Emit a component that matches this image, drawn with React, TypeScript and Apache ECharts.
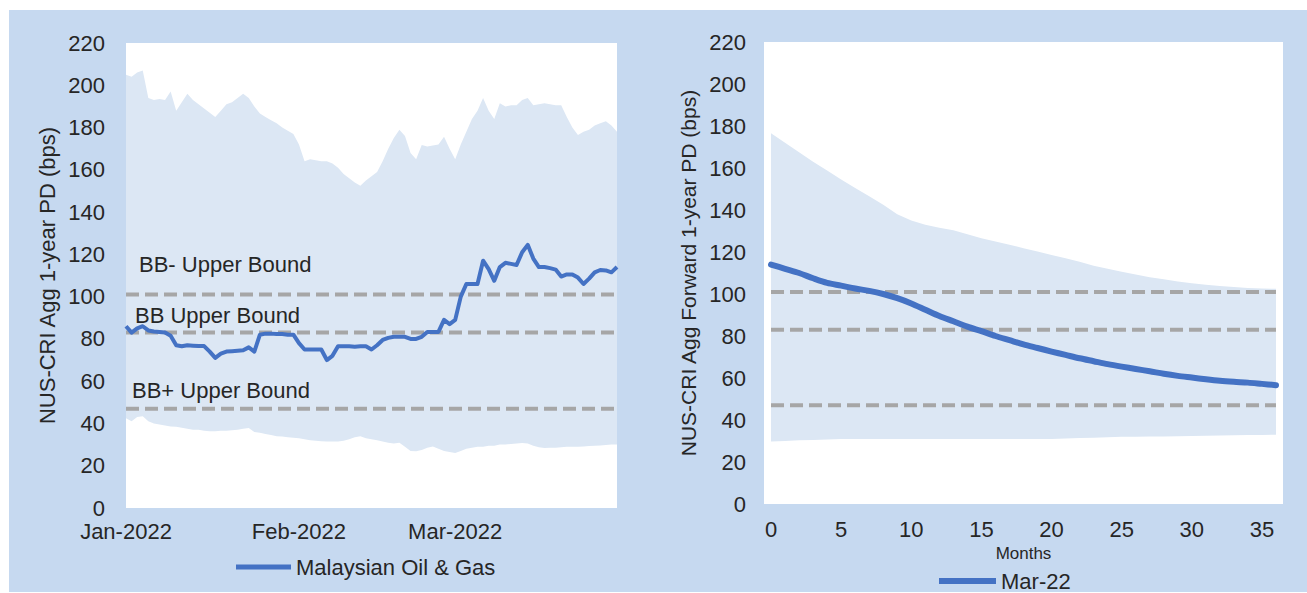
import React, { useEffect, useRef } from 'react';
import * as echarts from 'echarts';

// ---------- Left panel data (daily, 1 Jan 2022 .. 30 Mar 2022) ----------
const startYear = 2022;
const dayCount = 89;
const monthNames = ['Jan', 'Feb', 'Mar', 'Apr', 'May', 'Jun', 'Jul', 'Aug', 'Sep', 'Oct', 'Nov', 'Dec'];
const dates: string[] = [];
for (let i = 0; i < dayCount; i++) {
  const d = new Date(Date.UTC(startYear, 0, 1 + i));
  dates.push(d.toISOString().slice(0, 10));
}

const pdLine = [
  86, 83, 85, 86, 84, 83.5, 83.3, 83, 81.5, 77,
  76.5, 77, 76.8, 76.6, 76.6, 74, 71, 73, 74, 74.2,
  74.4, 74.6, 76, 74, 82, 82.5, 82.5, 82.3, 82.3, 82,
  82, 78, 75, 75, 75, 75, 70, 72, 76.5, 76.5,
  76.5, 76.3, 76.5, 76.5, 75, 77, 79.5, 80.5, 81, 81,
  81, 80, 80, 81, 83.3, 83.3, 83.3, 89, 87, 89,
  100, 106, 106, 106, 117, 113, 107.5, 114, 116, 115.5,
  115, 121, 124.5, 118, 114, 114, 113.5, 112.8, 109.5, 110.5,
  110.5, 109, 106, 108.5, 111.5, 112.6, 112.4, 111.5, 114,
];

const pdUpper = [
  205, 204, 206, 207, 194, 193, 193.5, 193, 197, 188,
  192, 196, 193, 191, 189, 187, 185, 188, 191, 192,
  194, 196, 194, 190, 186.7, 185, 183.5, 182, 180, 178.5,
  177, 172, 164, 165, 164.5, 164, 164, 163, 161, 158,
  156, 154, 152.5, 155, 157, 159, 164, 170, 175, 179,
  176, 168, 165, 171.7, 171, 171.5, 172, 175.6, 170, 165,
  172, 178, 184, 188, 194, 188, 184, 191.5, 190, 190.5,
  190.6, 193, 194, 190.6, 191, 191.5, 191, 190.5, 190.6, 185,
  180, 176.5, 178, 179, 181, 182, 183, 181, 178,
];

const pdLower = [
  42.5, 41, 43, 43.4, 41, 40, 39.5, 39, 38.6, 38.5,
  38, 37.5, 37, 37, 36.5, 36.3, 36.3, 36.5, 36.5, 36.8,
  37, 37.5, 37.9, 36, 35.6, 35, 34.5, 34, 33.8, 33.5,
  33.2, 33, 32.5, 32, 31.8, 31.6, 31.5, 31.5, 31.5, 31.8,
  32.5, 33.5, 33.9, 33, 32.5, 32, 31.5, 30.9, 30.5, 30.9,
  29, 27, 26.8, 27.5, 28.5, 29.1, 28, 27, 26.5, 26,
  27, 28, 28.5, 29, 29, 29.5, 29.5, 30, 30, 30.3,
  30.5, 30.7, 30.5, 29.5, 28.8, 28.4, 28.5, 28.5, 28.8, 29,
  29, 29, 29.1, 29.3, 29.5, 29.6, 29.8, 30, 30,
];

// ---------- Right panel data (months ahead 0..36) ----------
const months: string[] = [];
for (let m = 0; m <= 36; m++) months.push(String(m));

const fwdLine = [
  114, 112, 110, 107.5, 105.3, 104, 102.6, 101.5, 100, 98,
  95.5, 92.5, 89.5, 87, 84.5, 82.3, 80, 78, 76, 74.3,
  72.6, 71, 69.4, 68, 66.6, 65.4, 64.3, 63.2, 62, 61,
  60.2, 59.4, 58.7, 58.2, 57.8, 57.2, 56.6,
];
const fwdUpper = [
  176.5, 172, 167.5, 163, 158.8, 154.5, 150.5, 146.5, 142.5, 138,
  135, 133, 131.5, 130.3, 128.5, 126.5, 125, 123.5, 121.8, 120.2,
  118.6, 117, 115.3, 113.5, 112, 110.6, 109.3, 108, 107, 106,
  105.1, 104.4, 103.8, 103.3, 102.9, 102.6, 102.5,
];
const fwdLower = [
  29.8, 30, 30.3, 30.5, 30.7, 30.9, 31, 31, 31, 31,
  31, 31, 31, 31, 31, 31, 31, 31, 31, 31,
  31, 31.2, 31.4, 31.6, 31.8, 32, 32, 32.1, 32.2, 32.3,
  32.4, 32.5, 32.6, 32.7, 32.8, 32.9, 33,
];

// ---------- Rating bounds ----------
const boundLevels = [101, 83, 47];
const boundLabels = ['BB- Upper Bound', 'BB Upper Bound', 'BB+ Upper Bound'];

const leftName = 'Malaysian Oil & Gas';
const rightName = 'Mar-22';

const FONT = 'Liberation Sans, Arial, sans-serif';
const TXT = '#262626';
const PANEL = '#c6d9f0';
const BAND = '#dce7f4';
const LINE = '#4472c4';
const DASH = '#a6a6a6';

function bandSeries(lower: number[], upper: number[], axis: number, stack: string) {
  return [
    {
      type: 'line', xAxisIndex: axis, yAxisIndex: axis, stack, data: lower,
      symbol: 'none', silent: true, lineStyle: { opacity: 0 }, z: 1,
    },
    {
      type: 'line', xAxisIndex: axis, yAxisIndex: axis, stack,
      data: upper.map((u, i) => +(u - lower[i]).toFixed(2)),
      symbol: 'none', silent: true, lineStyle: { opacity: 0 },
      areaStyle: { color: BAND, opacity: 1 }, z: 1,
    },
  ];
}

function boundSeries(cats: string[], axis: number) {
  return boundLevels.map((lvl) => ({
    type: 'line', xAxisIndex: axis, yAxisIndex: axis,
    data: cats.map(() => lvl), symbol: 'none', silent: true,
    lineStyle: { color: DASH, width: 4, type: [13, 6], cap: 'butt' }, z: 2,
  }));
}

export default function App() {
  const ref = useRef<HTMLDivElement>(null);
  useEffect(() => {
    if (!ref.current) return;
    const chart = echarts.init(ref.current, null, { renderer: 'svg' });
    const labelStyle = { fontFamily: FONT, fontSize: 22, color: TXT };
    const option: any = {
      animation: false,
      textStyle: { fontFamily: FONT },
      grid: [
        { left: 126, top: 43, width: 491, height: 465, show: true, backgroundColor: '#ffffff', borderWidth: 0 },
        { left: 764, top: 42, width: 519, height: 462, show: true, backgroundColor: '#ffffff', borderWidth: 0 },
      ],
      xAxis: [
        {
          gridIndex: 0, type: 'category', data: dates, boundaryGap: false,
          axisLine: { show: false }, axisTick: { show: false }, splitLine: { show: false },
          axisLabel: {
            ...labelStyle, margin: 12,
            interval: (_i: number, v: string) => v.endsWith('-01'),
            formatter: (v: string) => `${monthNames[Number(v.slice(5, 7)) - 1]}-${v.slice(0, 4)}`,
          },
        },
        {
          gridIndex: 1, type: 'category', data: months, boundaryGap: true,
          axisLine: { show: false }, axisTick: { show: false }, splitLine: { show: false },
          axisLabel: { ...labelStyle, margin: 14, interval: 4 },
          name: 'Months', nameLocation: 'middle', nameGap: 40,
          nameTextStyle: { fontFamily: FONT, fontSize: 17, color: TXT },
        },
      ],
      yAxis: [
        {
          gridIndex: 0, type: 'value', min: 0, max: 220, interval: 20,
          axisLine: { show: false }, axisTick: { show: false }, splitLine: { show: false },
          axisLabel: { ...labelStyle, margin: 21 },
          name: 'NUS-CRI Agg 1-year PD (bps)', nameLocation: 'middle', nameGap: 68,
          nameTextStyle: { fontFamily: FONT, fontSize: 22, color: TXT },
        },
        {
          gridIndex: 1, type: 'value', min: 0, max: 220, interval: 20,
          axisLine: { show: false }, axisTick: { show: false }, splitLine: { show: false },
          axisLabel: { ...labelStyle, margin: 18 },
          name: 'NUS-CRI Agg Forward 1-year PD (bps)', nameLocation: 'middle', nameGap: 65,
          nameTextStyle: { fontFamily: FONT, fontSize: 21, color: TXT },
        },
      ],
      legend: [
        {
          data: [leftName], left: 236, top: 556, padding: 0,
          icon: 'rect', itemWidth: 55, itemHeight: 5,
          textStyle: { fontFamily: FONT, fontSize: 22, color: TXT },
        },
        {
          data: [rightName], left: 939, top: 570, padding: 0,
          icon: 'rect', itemWidth: 57, itemHeight: 6,
          textStyle: { fontFamily: FONT, fontSize: 22, color: TXT },
        },
      ],
      graphic: [
        { type: 'text', x: 139, y: 264, style: { text: boundLabels[0], font: `22px ${FONT}`, fill: TXT, verticalAlign: 'middle' }, z: 10 },
        { type: 'text', x: 135, y: 315, style: { text: boundLabels[1], font: `22px ${FONT}`, fill: TXT, verticalAlign: 'middle' }, z: 10 },
        { type: 'text', x: 132, y: 390, style: { text: boundLabels[2], font: `22px ${FONT}`, fill: TXT, verticalAlign: 'middle' }, z: 10 },
      ],
      series: [
        ...bandSeries(pdLower, pdUpper, 0, 'bandL'),
        ...boundSeries(dates, 0),
        {
          name: leftName, type: 'line', xAxisIndex: 0, yAxisIndex: 0, data: pdLine,
          symbol: 'none', color: LINE, lineStyle: { color: LINE, width: 4, join: 'round' }, z: 5,
        },
        ...bandSeries(fwdLower, fwdUpper, 1, 'bandR'),
        ...boundSeries(months, 1),
        {
          name: rightName, type: 'line', xAxisIndex: 1, yAxisIndex: 1, data: fwdLine,
          symbol: 'none', color: LINE, smooth: 0.3,
          lineStyle: { color: LINE, width: 6, join: 'round', cap: 'round' }, z: 5,
        },
      ],
    };
    chart.setOption(option);
    return () => chart.dispose();
  }, []);

  return (
    <div style={{ position: 'absolute', left: 0, top: 0, width: 1307, height: 593, background: '#ffffff' }}>
      <div style={{ position: 'absolute', left: 9, top: 10, width: 1298, height: 582, background: PANEL }} />
      <div ref={ref} style={{ position: 'absolute', left: 0, top: 0, width: 1307, height: 593 }} />
    </div>
  );
}
